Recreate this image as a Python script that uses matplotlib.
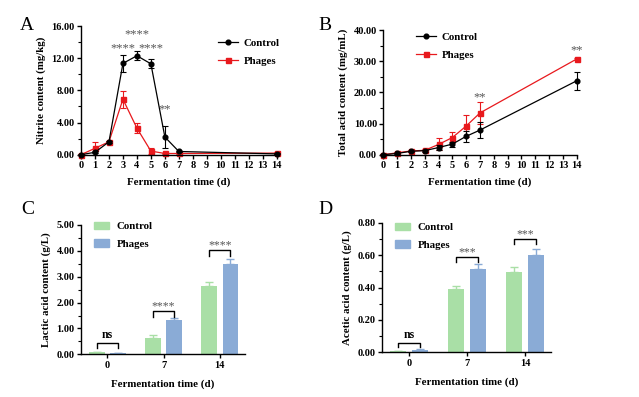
import matplotlib
matplotlib.use("Agg")
import matplotlib.pyplot as plt
import numpy as np
from matplotlib.patches import Patch
from matplotlib.lines import Line2D
from matplotlib.ticker import MultipleLocator

plt.rcParams['font.family'] = ['Liberation Serif', 'DejaVu Serif']
plt.rcParams['font.weight'] = 'bold'

# ---- Data ----
days = [0, 1, 2, 3, 4, 5, 6, 7, 14]
nitrite_control = [0.0, 0.3, 1.6, 11.35, 12.3, 11.3, 2.2, 0.4, 0.1]
nitrite_control_err = [0.05, 0.1, 0.1, 1.1, 0.55, 0.55, 1.35, 0.1, 0.05]
nitrite_phages = [0.0, 0.8, 1.6, 6.9, 3.3, 0.45, 0.15, 0.15, 0.2]
nitrite_phages_err = [0.05, 0.8, 0.1, 1.05, 0.6, 0.4, 0.05, 0.05, 0.1]
nitrite_sig = {3: "****", 4: "****", 5: "****", 6: "**"}

acid_control = [0.0, 0.4, 1.1, 1.3, 2.3, 3.4, 5.9, 7.9, 23.7]
acid_control_err = [0.1, 0.2, 0.2, 0.3, 0.7, 0.8, 1.8, 2.6, 2.8]
acid_phages = [0.0, 0.6, 1.2, 1.4, 3.3, 5.5, 9.2, 13.4, 30.7]
acid_phages_err = [0.1, 0.2, 0.2, 0.3, 1.9, 1.9, 3.5, 3.5, 0.3]
acid_sig = {7: "**", 14: "**"}

bar_days = ["0", "7", "14"]
lactic_control = [0.07, 0.64, 2.66]
lactic_control_err = [0.02, 0.11, 0.15]
lactic_phages = [0.05, 1.31, 3.51]
lactic_phages_err = [0.01, 0.08, 0.18]
lactic_sig = ["ns", "****", "****"]

acetic_control = [0.005, 0.39, 0.495]
acetic_control_err = [0.002, 0.022, 0.035]
acetic_phages = [0.015, 0.515, 0.605]
acetic_phages_err = [0.005, 0.03, 0.032]
acetic_sig = ["ns", "***", "***"]

RED = "#e8191d"
GREEN = "#a9dfa6"
BLUE = "#8aabd6"
STAR = "#555555"
FS_TICK = 7.5
FS_LAB = 7.8

fig = plt.figure(figsize=(6.39, 3.97), dpi=100)

def style_axes(ax):
    for s in ["top", "right"]:
        ax.spines[s].set_visible(False)
    for s in ["left", "bottom"]:
        ax.spines[s].set_linewidth(1.0)
    ax.tick_params(axis="both", which="major", direction="out", length=3, width=1.0,
                   labelsize=FS_TICK, pad=1.5)
    ax.tick_params(axis="y", which="minor", direction="out", length=2, width=0.8)
    for lab in ax.get_xticklabels() + ax.get_yticklabels():
        lab.set_fontweight("bold")

def noclip(container):
    for art in container.get_children():
        art.set_clip_on(False)

def line_panel(ax, yc, yce, yp, ype, ymax, ymaj, ymin, ylabel, sig, sig_y, leg_pos):
    c1 = ax.errorbar(days, yc, yerr=yce, color="black", marker="o", markersize=3.4,
                     linewidth=0.9, elinewidth=0.8, capsize=2, capthick=0.8, zorder=3)
    c2 = ax.errorbar(days, yp, yerr=ype, color=RED, marker="s", markersize=3.6,
                     linewidth=0.9, elinewidth=0.8, capsize=2, capthick=0.8, zorder=2)
    noclip(c1)
    noclip(c2)
    ax.set_xlim(0, 14)
    ax.set_ylim(0, ymax)
    ax.set_xticks(range(0, 15))
    ax.yaxis.set_major_locator(MultipleLocator(ymaj))
    ax.yaxis.set_minor_locator(MultipleLocator(ymin))
    ax.yaxis.set_major_formatter(matplotlib.ticker.FormatStrFormatter("%.2f"))
    ax.set_xlabel("Fermentation time (d)", fontsize=FS_LAB, fontweight="bold", labelpad=5)
    ax.set_ylabel(ylabel, fontsize=FS_LAB, fontweight="bold", labelpad=4)
    for d, s in sig.items():
        ax.text(d, sig_y[d], s, ha="center", va="center", fontsize=9, color=STAR,
                fontweight="normal")
    style_axes(ax)
    handles = [Line2D([], [], color="black", marker="o", markersize=3.4, linewidth=0.9),
               Line2D([], [], color=RED, marker="s", markersize=3.6, linewidth=0.9)]
    ax.legend(handles, ["Control", "Phages"], loc="upper left", bbox_to_anchor=leg_pos,
              bbox_transform=fig.transFigure, frameon=False,
              prop={"size": FS_LAB, "weight": "bold"}, handlelength=1.8,
              handletextpad=0.6, labelspacing=0.75, borderpad=0, borderaxespad=0)

def bar_panel(ax, vc, vce, vp, vpe, ymax, ymaj, ymin, ylabel, sig, br_y, br_drop, leg_pos):
    x = np.arange(len(bar_days))
    w = 0.28
    off = 0.19
    ax.bar(x - off, vc, width=w, color=GREEN, zorder=2)
    ax.bar(x + off, vp, width=w, color=BLUE, zorder=2)
    ax.errorbar(x - off, vc, yerr=[np.zeros(3), vce], fmt="none", ecolor=GREEN,
                elinewidth=1.0, capsize=3, capthick=1.0, zorder=1)
    ax.errorbar(x + off, vp, yerr=[np.zeros(3), vpe], fmt="none", ecolor=BLUE,
                elinewidth=1.0, capsize=3, capthick=1.0, zorder=1)
    for i, s in enumerate(sig):
        xl, xr = x[i] - off, x[i] + off
        yb = br_y[i]
        ax.plot([xl, xl, xr, xr], [yb - br_drop, yb, yb, yb - br_drop],
                color="black", linewidth=1.0, zorder=4)
        if s == "ns":
            ax.text(x[i], yb + br_drop * 0.3, s, ha="center", va="bottom", fontsize=8.5,
                    fontweight="bold", color="black")
        else:
            ax.text(x[i], yb - br_drop * 0.2, s, ha="center", va="bottom", fontsize=8.5,
                    color=STAR, fontweight="normal")
    ax.set_xlim(-0.47, 2.45)
    ax.set_ylim(0, ymax)
    ax.set_xticks(x)
    ax.set_xticklabels(bar_days)
    ax.yaxis.set_major_locator(MultipleLocator(ymaj))
    ax.yaxis.set_minor_locator(MultipleLocator(ymin))
    ax.yaxis.set_major_formatter(matplotlib.ticker.FormatStrFormatter("%.2f"))
    ax.set_xlabel("Fermentation time (d)", fontsize=FS_LAB, fontweight="bold", labelpad=7)
    ax.set_ylabel(ylabel, fontsize=FS_LAB, fontweight="bold", labelpad=4)
    style_axes(ax)
    handles = [Patch(color=GREEN), Patch(color=BLUE)]
    ax.legend(handles, ["Control", "Phages"], loc="upper left", bbox_to_anchor=leg_pos,
              bbox_transform=fig.transFigure, frameon=False,
              prop={"size": FS_LAB, "weight": "bold"}, handlelength=1.35, handleheight=0.75,
              handletextpad=0.75, labelspacing=0.7, borderpad=0, borderaxespad=0)

W, H = 639.0, 397.0
def rect(l, r, b, t):
    return [l / W, 1 - b / H, (r - l) / W, (b - t) / H]

axA = fig.add_axes(rect(81, 276.7, 154.7, 26))
axB = fig.add_axes(rect(383.3, 576.7, 154.7, 30))
axC = fig.add_axes(rect(81, 245, 354.3, 225))
axD = fig.add_axes(rect(382, 551, 352.3, 223))

line_panel(axA, nitrite_control, nitrite_control_err, nitrite_phages, nitrite_phages_err,
           16, 4, 2, "Nitrite content (mg/kg)", nitrite_sig,
           {3: 13.2, 4: 15.0, 5: 13.2, 6: 5.7}, (218 / W, 1 - 38.5 / H))
line_panel(axB, acid_control, acid_control_err, acid_phages, acid_phages_err,
           40, 10, 5, "Total acid content (mg/mL)", acid_sig,
           {7: 18.3, 14: 33.6}, (416 / W, 1 - 32.5 / H))
bar_panel(axC, lactic_control, lactic_control_err, lactic_phages, lactic_phages_err,
          5, 1, 0.5, "Lactic acid content (g/L)", lactic_sig,
          [0.45, 1.68, 4.04], 0.22, (94 / W, 1 - 221.5 / H))
bar_panel(axD, acetic_control, acetic_control_err, acetic_phages, acetic_phages_err,
          0.8, 0.2, 0.1, "Acetic acid content (g/L)", acetic_sig,
          [0.06, 0.59, 0.70], 0.03, (395 / W, 1 - 222.5 / H))

for lab, x, y in [("A", 27, 25), ("B", 325, 25), ("C", 28, 210), ("D", 325, 210)]:
    fig.text(x / W, 1 - y / H, lab, fontsize=14, fontweight="normal", ha="center",
             va="center")

fig.savefig("out.png", dpi=100)
